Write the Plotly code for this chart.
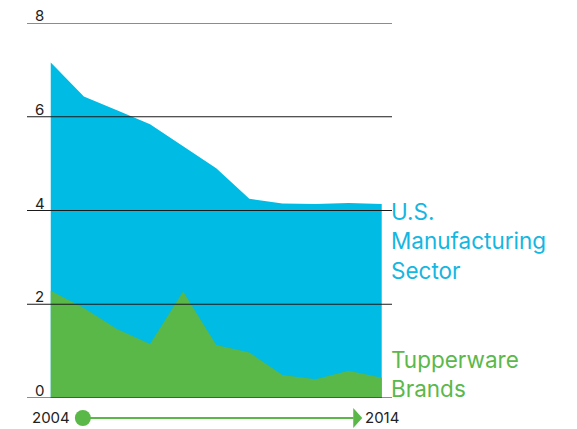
import plotly.graph_objects as go

years = list(range(2004, 2015))
us_manufacturing = [7.16, 6.43, 6.14, 5.84, 5.37, 4.90, 4.25, 4.15, 4.14, 4.16, 4.14]
tupperware = [2.29, 1.92, 1.47, 1.15, 2.27, 1.13, 0.97, 0.49, 0.40, 0.58, 0.43]
y_ticks = [0, 2, 4, 6, 8]
y_tick_labels = ["0", "2", "4", "6", "8"]
series_names = ["U.S.<br>Manufacturing<br>Sector", "Tupperware<br>Brands"]
timeline_labels = ["2004", "2014"]

BLUE = "#00BBE3"
GREEN = "#59B848"
FONT = "Inter"

fig = go.Figure()
fig.add_trace(go.Scatter(x=years, y=us_manufacturing, mode="lines", fill="tozeroy",
                         fillcolor=BLUE, line=dict(width=0, color=BLUE), hoverinfo="skip"))
fig.add_trace(go.Scatter(x=years, y=tupperware, mode="lines", fill="tozeroy",
                         fillcolor=GREEN, line=dict(width=0, color=GREEN), hoverinfo="skip"))

shapes = []
annotations = []
for v, lab in zip(y_ticks, y_tick_labels):
    shapes.append(dict(type="line", xref="paper", yref="y", x0=0, x1=1, y0=v, y1=v,
                       line=dict(color="#1a1a1a", width=1), layer="above"))
    annotations.append(dict(xref="paper", yref="y", x=0.016, y=v, text=lab, showarrow=False,
                            xanchor="left", yanchor="bottom", yshift=-4,
                            font=dict(family=FONT, size=15, color="#222222")))

# timeline
ty = -0.0533
shapes.append(dict(type="line", xref="x", yref="paper", x0=years[0] + 0.97, x1=years[-1] - 0.85,
                   y0=ty, y1=ty, line=dict(color=GREEN, width=2)))
shapes.append(dict(type="circle", xref="x", yref="paper", xsizemode="pixel", ysizemode="pixel",
                   xanchor=years[0] + 0.97, yanchor=ty, x0=-8, x1=8, y0=-8, y1=8,
                   fillcolor=GREEN, line=dict(width=0)))
shapes.append(dict(type="path", xref="x", yref="paper", xsizemode="pixel", ysizemode="pixel",
                   xanchor=years[-1] - 0.86, yanchor=ty, path="M 0,-10 L 9,0 L 0,10 Z",
                   fillcolor=GREEN, line=dict(width=0)))
for yr, lab in zip([years[0], years[-1]], timeline_labels):
    annotations.append(dict(xref="x", yref="paper", x=yr, y=ty, text=lab, showarrow=False,
                            xanchor="center", yanchor="middle",
                            font=dict(family=FONT, size=15, color="#222222")))

annotations.append(dict(xref="paper", yref="y", x=1, y=4, text=series_names[0],
                        showarrow=False, xanchor="left", yanchor="top", yshift=15, xshift=-3,
                        align="left", font=dict(family=FONT, size=22.5, color="#14B6E2")))
annotations.append(dict(xref="paper", yref="y", x=1, y=0.83, text=series_names[1],
                        showarrow=False, xanchor="left", yanchor="top", yshift=15, xshift=-3,
                        align="left", font=dict(family=FONT, size=22.5, color="#5BB84B")))

# page body has an 8px margin, so margins are reduced by 8px to compensate
fig.update_layout(
    width=577, height=429,
    margin=dict(l=19, r=193, t=15, b=39),
    paper_bgcolor="white", plot_bgcolor="white",
    showlegend=False,
    xaxis=dict(range=[2003.282, 2014.311], showgrid=False, showticklabels=False, zeroline=False,
               showline=False, ticks=""),
    yaxis=dict(range=[0, 8], showgrid=False, showticklabels=False, zeroline=False,
               showline=False, ticks=""),
    shapes=shapes, annotations=annotations,
)

fig.write_html("out.html")
